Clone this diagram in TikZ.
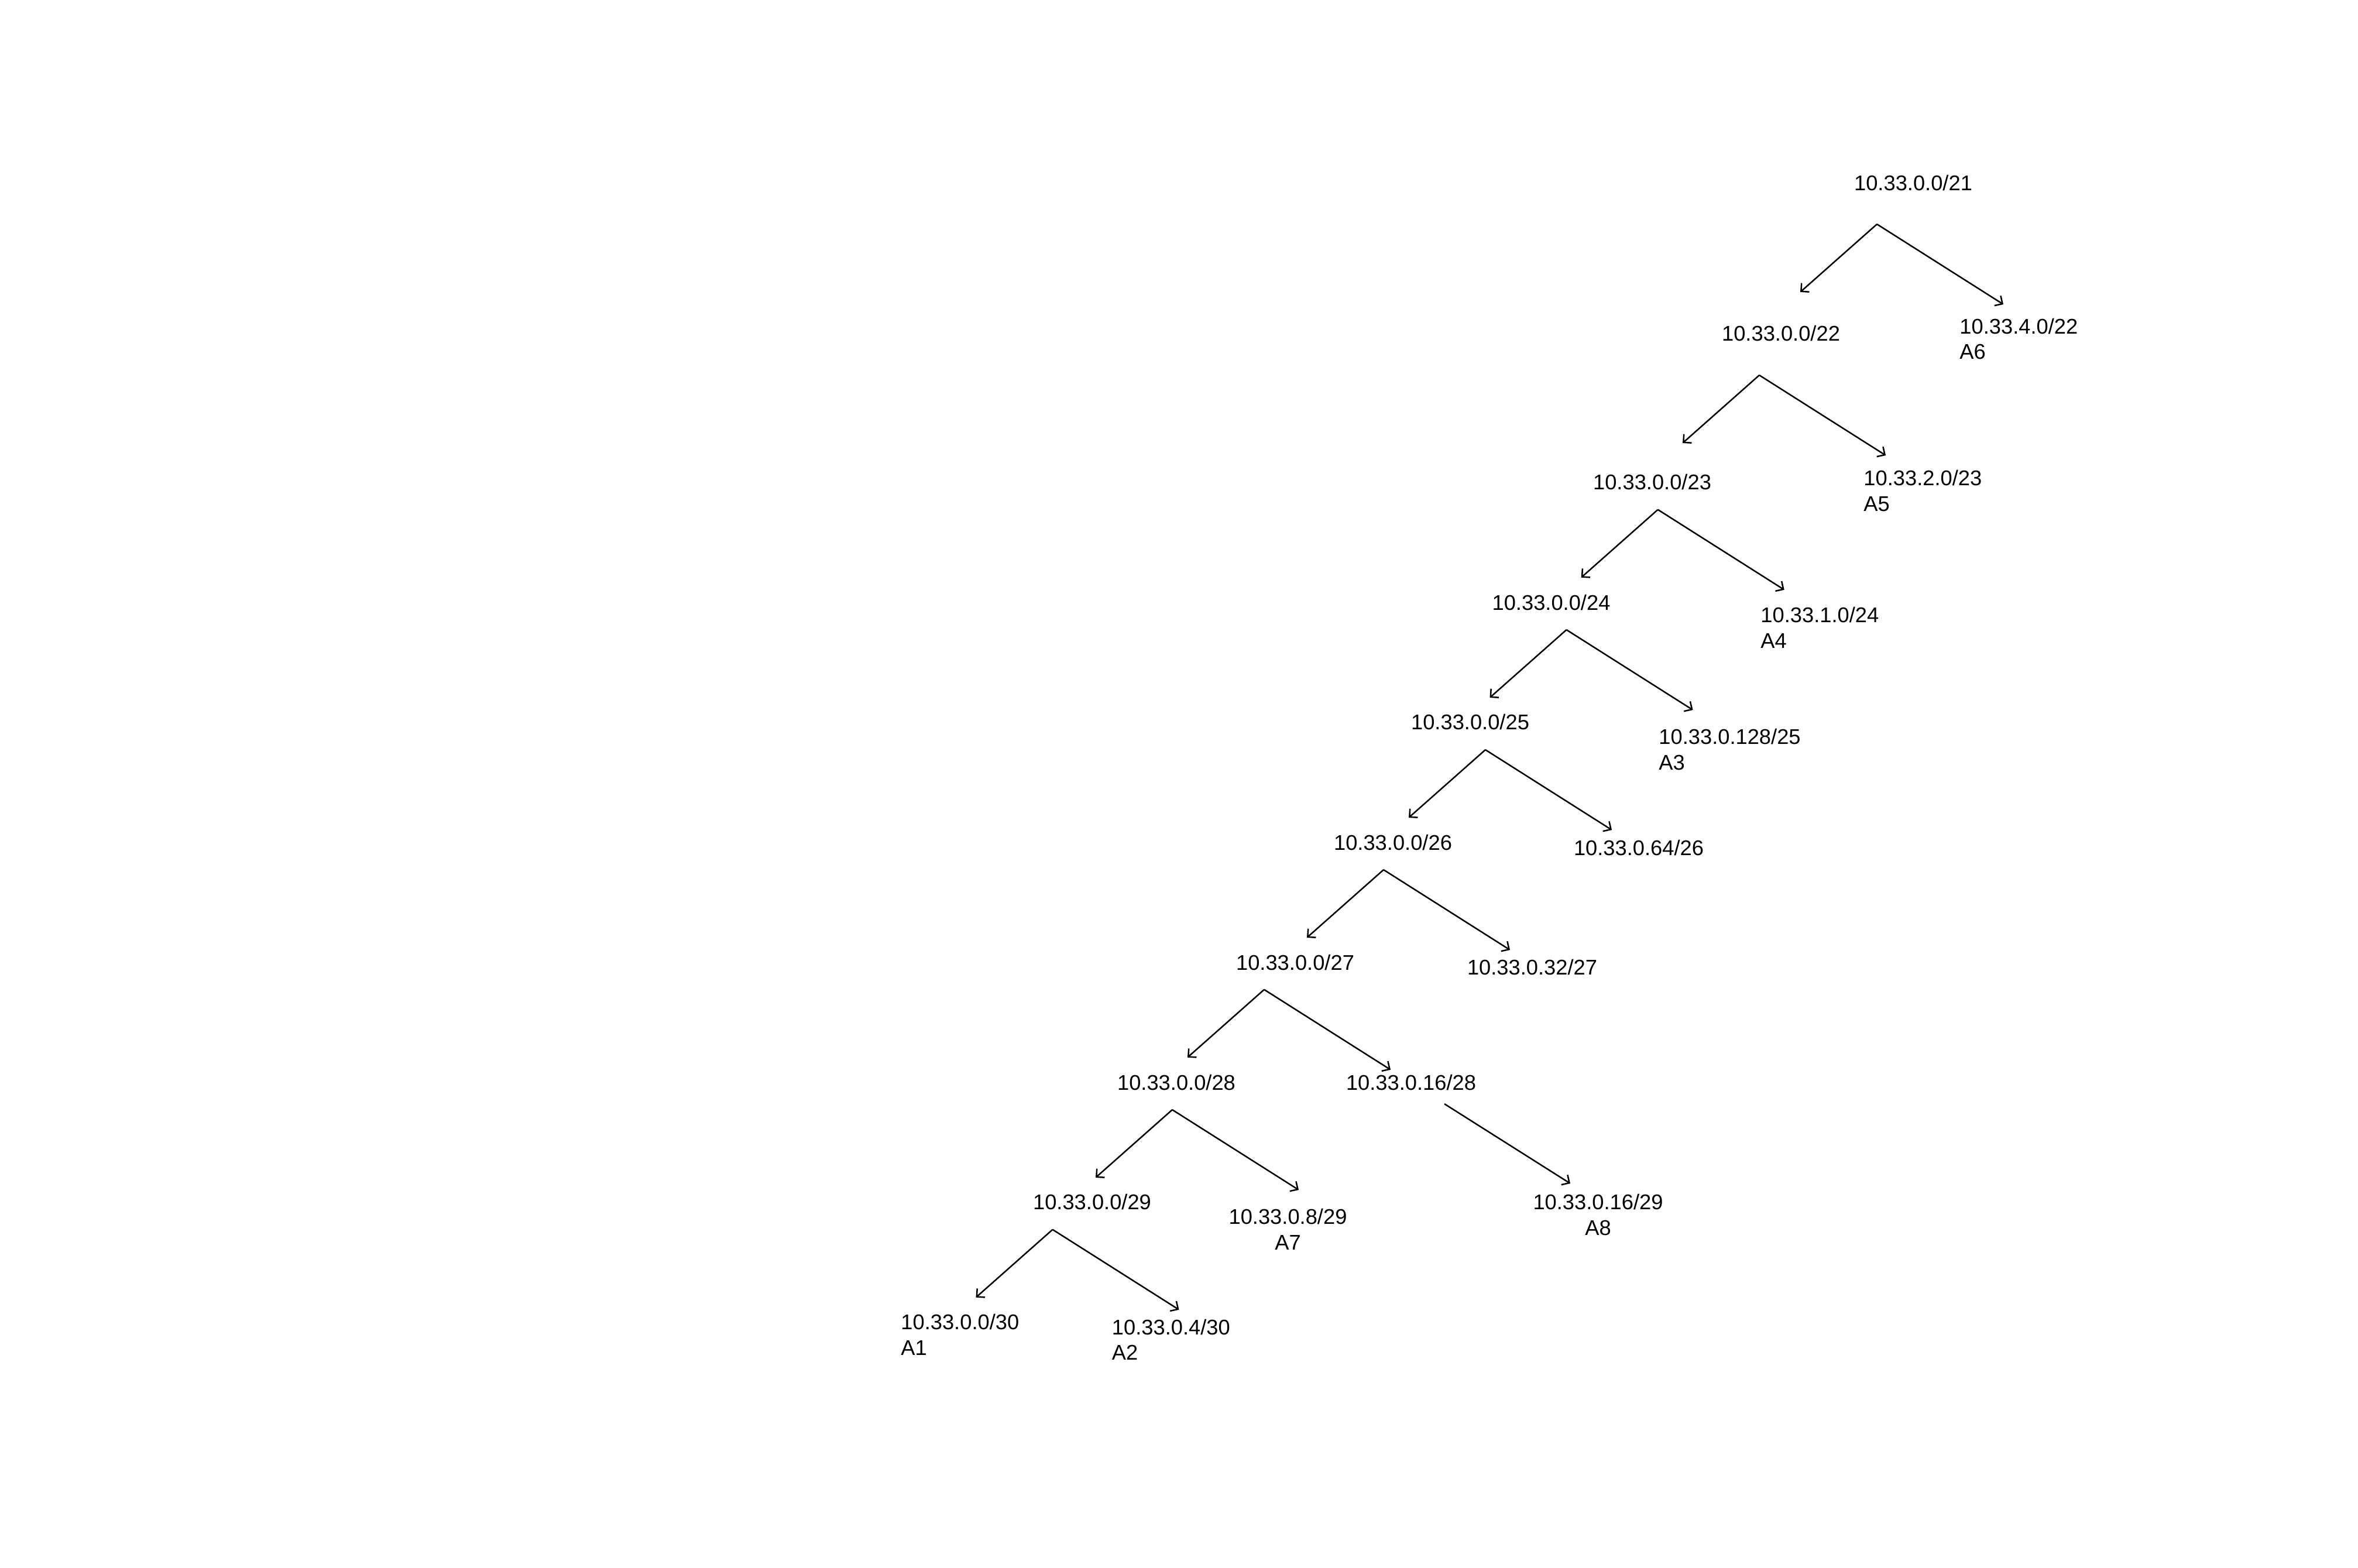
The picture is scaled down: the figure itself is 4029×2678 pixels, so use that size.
\documentclass[tikz,border=0pt]{standalone}
\usepackage{fontspec}
\setmainfont{Liberation Sans}
\usetikzlibrary{arrows.meta}
\begin{document}
\begin{tikzpicture}[x=0.5pt,y=-0.5pt,
  lbl/.style={inner sep=0pt, anchor=base, font=\fontsize{18.15pt}{21.5pt}\selectfont},
  lblw/.style={lbl, anchor=base west},
  arr/.style={draw, line width=1.25pt, -{Straight Barb[length=5pt,width=10pt]}}]
\useasboundingbox (0,0) rectangle (4029,2678);
% labels
\node[lbl]  (n21) at (3269,325) {10.33.0.0/21};
\node[lbl]  (n22) at (3043,582.5) {10.33.0.0/22};
\node[lblw] (n22r) at (3348,570) {10.33.4.0/22};
\node[lblw] (n22ra) at (3348,613) {A6};
\node[lbl]  (n23) at (2823,836) {10.33.0.0/23};
\node[lblw] (n23r) at (3184,829) {10.33.2.0/23};
\node[lblw] (n23ra) at (3184,873) {A5};
\node[lbl]  (n24) at (2650.5,1042) {10.33.0.0/24};
\node[lblw] (n24r) at (3008,1063.5) {10.33.1.0/24};
\node[lblw] (n24ra) at (3008,1107) {A4};
\node[lbl]  (n25) at (2512,1246) {10.33.0.0/25};
\node[lblw] (n25r) at (2834,1271) {10.33.0.128/25};
\node[lblw] (n25ra) at (2834,1315) {A3};
\node[lbl]  (n26) at (2380,1452) {10.33.0.0/26};
\node[lbl]  (n26r) at (2800,1461) {10.33.0.64/26};
\node[lbl]  (n27) at (2213,1657) {10.33.0.0/27};
\node[lbl]  (n27r) at (2618,1665) {10.33.0.32/27};
\node[lbl]  (n28) at (2010,1862) {10.33.0.0/28};
\node[lbl]  (n28r) at (2411,1862) {10.33.0.16/28};
\node[lbl]  (n29) at (1866,2066) {10.33.0.0/29};
\node[lbl]  (n29r) at (2200.5,2091.5) {10.33.0.8/29};
\node[lbl]  (n29ra) at (2200.5,2135) {A7};
\node[lbl]  (n29b) at (2730.5,2066.5) {10.33.0.16/29};
\node[lbl]  (n29ba) at (2730.5,2110) {A8};
\node[lblw] (n30) at (1539,2271.5) {10.33.0.0/30};
\node[lblw] (n30a) at (1539,2315) {A1};
\node[lblw] (n30r) at (1899.5,2280) {10.33.0.4/30};
\node[lblw] (n30ra) at (1899.5,2323) {A2};
% split points and arrow ends
\foreach \n/\x/\y in {21/3207/383, 22/3006/641, 23/2832.7/870.7, 24/2676.5/1076,
                      25/2538/1281, 26/2364/1486, 27/2160/1690.7, 28/2003/1896,
                      29/1798.5/2100.7} {
  \coordinate (s\n) at (\x,\y);
  \coordinate (l\n) at (\x-131,\y+116);
  \coordinate (r\n) at (\x+216,\y+137);
  \draw[arr] (s\n) -- (l\n);
  \draw[arr] (s\n) -- (r\n);
}
\coordinate (s28b) at (2468,1886);
\coordinate (r28b) at (2683,2022);
\draw[arr] (s28b) -- (r28b);
\end{tikzpicture}
\end{document}
